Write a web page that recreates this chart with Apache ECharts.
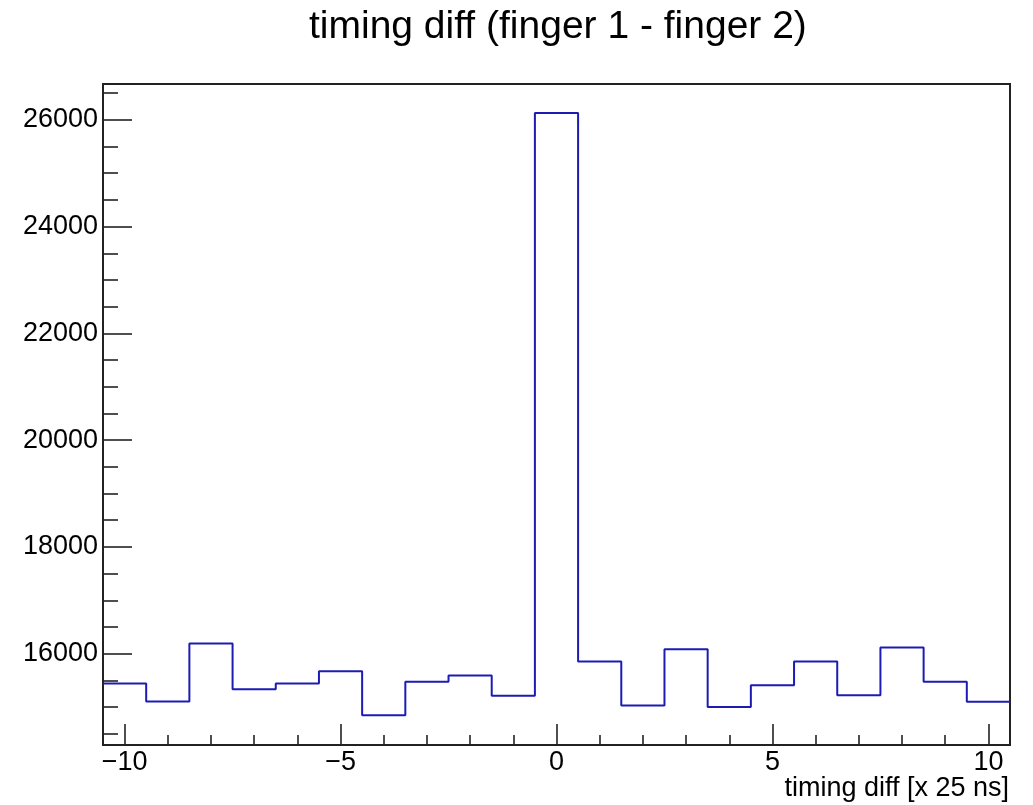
<!DOCTYPE html>
<html>
<head>
<meta charset="utf-8">
<script src="https://cdn.jsdelivr.net/npm/echarts@6/dist/echarts.min.js"></script>
<style>
html,body{margin:0;padding:0;background:#fff;}
#chart{width:1033px;height:805px;}
</style>
</head>
<body>
<div id="chart"></div>
<script>
// ---- data ----
var binCenters = [-10,-9,-8,-7,-6,-5,-4,-3,-2,-1,0,1,2,3,4,5,6,7,8,9,10];
var counts = [15444,15107,16193,15332,15444,15669,14845,15476,15594,15213,26125,15856,15032,16081,15001,15407,15856,15220,16118,15476,15101];
var binWidth = 1;
var titleText = 'timing diff (finger 1 - finger 2)';
var xTitle = 'timing diff [x 25 ns]';

// build step points from bin edges
var stepPts = [];
for (var i = 0; i < binCenters.length; i++) {
  stepPts.push([binCenters[i] - binWidth / 2, counts[i]]);
}
stepPts.push([binCenters[binCenters.length - 1] + binWidth / 2, counts[counts.length - 1]]);

var FONT = 'Liberation Sans, Arial, sans-serif';
var frameColor = '#222';

var chart = echarts.init(document.getElementById('chart'), null, {renderer: 'canvas'});
chart.setOption({
  animation: false,
  backgroundColor: '#fff',
  title: [{
    text: titleText,
    left: 309, top: 8, padding: 0,
    textStyle: {fontFamily: FONT, fontSize: 39, fontWeight: 'normal', color: '#000'}
  }, {
    text: xTitle,
    right: 24, top: 775, padding: 0,
    textStyle: {fontFamily: FONT, fontSize: 27, fontWeight: 'normal', color: '#000'}
  }],
  grid: {
    left: 103, right: 23, top: 84, bottom: 60,
    outerBoundsMode: 'none', containLabel: false,
    show: true, borderColor: frameColor, borderWidth: 2, backgroundColor: 'transparent'
  },
  xAxis: {
    type: 'value',
    min: -10.5, max: 10.5, splitNumber: 4,
    axisLine: {show: true, onZero: false, lineStyle: {color: frameColor, width: 2}},
    axisTick: {show: true, inside: true, length: 21, lineStyle: {color: frameColor, width: 1.6}},
    minorTick: {show: true, splitNumber: 5, length: 10, lineStyle: {color: frameColor, width: 1.6}},
    splitLine: {show: false},
    axisLabel: {
      margin: 4, fontFamily: FONT, fontSize: 27, color: '#000',
      formatter: function (v) {
        if (Math.abs(v % 5) > 1e-9) return '';
        return v < 0 ? '\u2212' + Math.abs(v) : String(v);
      }
    }
  },
  yAxis: {
    type: 'value',
    min: 14290, max: 26670, splitNumber: 6,
    axisLine: {show: true, onZero: false, lineStyle: {color: frameColor, width: 2}},
    axisTick: {show: true, inside: true, length: 29, lineStyle: {color: frameColor, width: 1.6}},
    minorTick: {show: true, splitNumber: 4, length: 15, lineStyle: {color: frameColor, width: 1.6}},
    splitLine: {show: false},
    axisLabel: {
      margin: 5, fontFamily: FONT, fontSize: 27, color: '#000',
      formatter: function (v) {
        if (Math.abs(v % 2000) > 1e-9) return '';
        return String(v);
      }
    }
  },
  series: [{
    type: 'line',
    step: 'end',
    data: stepPts,
    showSymbol: false,
    symbol: 'none',
    clip: true,
    lineStyle: {color: '#1c1cb4', width: 2},
    silent: true
  }]
});
</script>
</body>
</html>
